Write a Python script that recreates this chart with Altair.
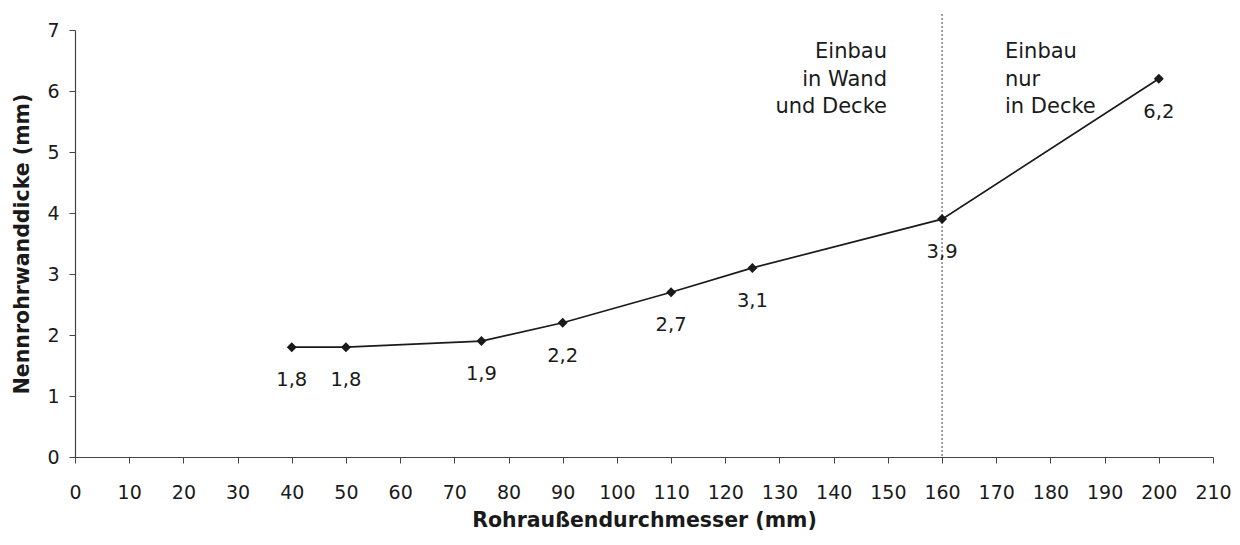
import altair as alt
import pandas as pd

# ---- data ----
diameter = [40, 50, 75, 90, 110, 125, 160, 200]          # Rohraußendurchmesser (mm)
thickness = [1.8, 1.8, 1.9, 2.2, 2.7, 3.1, 3.9, 6.2]     # Nennrohrwanddicke (mm)
value_labels = ["1,8", "1,8", "1,9", "2,2", "2,7", "3,1", "3,9", "6,2"]
x_ticks = list(range(0, 211, 10))
y_ticks = list(range(0, 8))
boundary = [160]
left_note = ["Einbau", "in Wand", "und Decke"]
right_note = ["Einbau", "nur", "in Decke"]

FONT = "DejaVu Sans"
INK = "#1a1a1a"

df = pd.DataFrame({"d": diameter, "t": thickness, "lab": value_labels})

xscale = alt.Scale(domain=[0, 210], nice=False, zero=False)
yscale = alt.Scale(domain=[0, 7], nice=False, zero=False)

x_enc = alt.X(
    "d:Q", scale=xscale,
    axis=alt.Axis(values=x_ticks, title="Rohraußendurchmesser (mm)",
                  labelPadding=20, titlePadding=8, format="d",
                  labelOverlap=False, labelFlush=False),
)
y_enc = alt.Y(
    "t:Q", scale=yscale,
    axis=alt.Axis(values=y_ticks, title="Nennrohrwanddicke (mm)",
                  labelPadding=10, titlePadding=14, format="d",
                  labelOverlap=False, labelFlush=False),
)

base = alt.Chart(df)

line = base.mark_line(color=INK, strokeWidth=1.7).encode(x=x_enc, y=y_enc)

points = base.mark_point(shape="diamond", filled=True, color=INK, size=100,
                         opacity=1).encode(x="d:Q", y="t:Q")

labels = base.mark_text(dy=33, font=FONT, fontSize=19.5, color=INK).encode(
    x="d:Q", y="t:Q", text="lab:N")

rule = alt.Chart(pd.DataFrame({"b": boundary})).mark_rule(
    strokeDash=[2, 2], color="#444", strokeWidth=1, clip=False
).encode(x="b:Q", y=alt.value(-16), y2=alt.value(427))

note_df = pd.DataFrame({"l": ["\n".join(left_note)], "r": ["\n".join(right_note)]})
note_left = alt.Chart(note_df).mark_text(
    align="right", baseline="middle", lineBreak="\n", lineHeight=27.5,
    font=FONT, fontSize=21, color=INK,
).encode(x=alt.value(812), y=alt.value(22), text="l:N")
note_right = alt.Chart(note_df).mark_text(
    align="left", baseline="middle", lineBreak="\n", lineHeight=27.5,
    font=FONT, fontSize=21, color=INK,
).encode(x=alt.value(930), y=alt.value(22), text="r:N")

chart = alt.layer(rule, line, points, labels, note_left, note_right).properties(
    width=1138, height=427,
    autosize=alt.AutoSizeParams(type="none"),
    padding={"left": 67, "top": 22, "right": 19, "bottom": 80},
).configure_view(stroke=None).configure_axis(
    grid=False,
    labelFont=FONT, labelFontSize=19, labelColor=INK,
    titleFont=FONT, titleFontSize=20.5, titleFontWeight="bold", titleColor=INK,
    domainColor="#444", tickColor="#444", tickSize=6, domainWidth=1.2,
)

chart.save("out.html", embed_options={"renderer": "svg", "actions": False})
